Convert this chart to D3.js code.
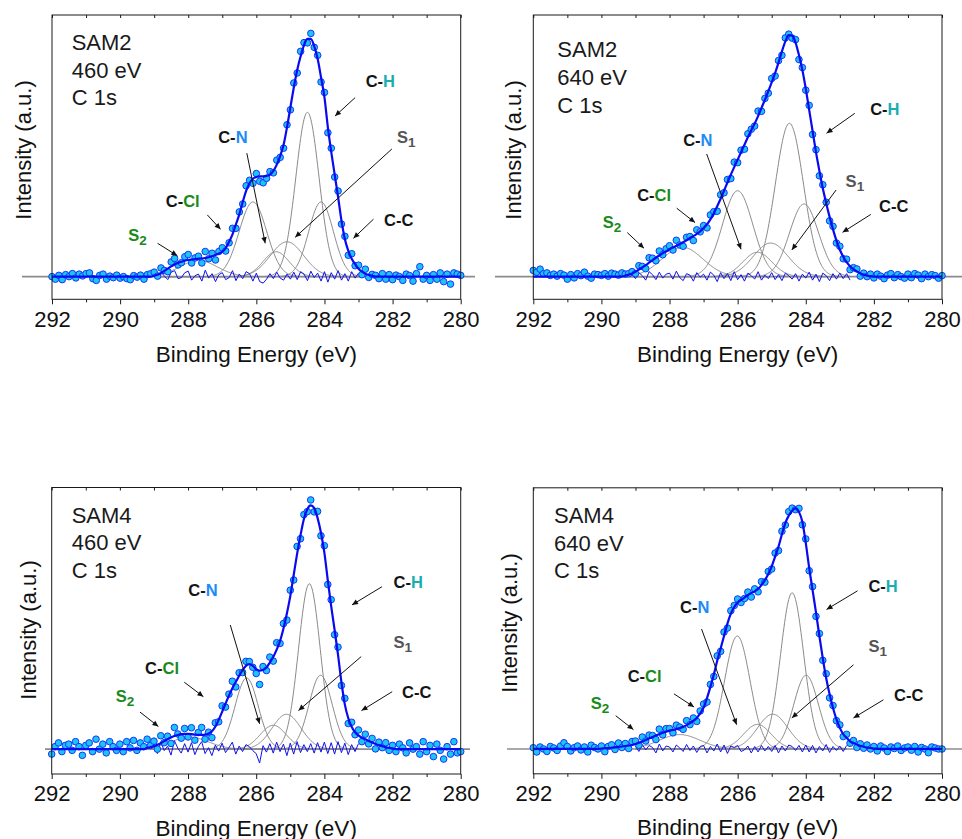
<!DOCTYPE html>
<html><head><meta charset="utf-8">
<script src="https://cdn.jsdelivr.net/npm/d3@7"></script>
<style>body{margin:0;background:#fff}svg{display:block}</style>
</head><body>
<svg id="chart" width="962" height="839"></svg>
<script>
// ---------- DATA ----------
// Energy grid: 292.0 eV down to 280.0 eV, 0.1 eV step (121 points); rows of 10 values
const energyStart = 292.0;
const energyStep = 0.1;
const xTickValues = [292, 290, 288, 286, 284, 282, 280];
const xMinorTickValues = [291, 289, 287, 285, 283, 281];
const xDomain = [292, 280];

const sampleNames = [["SAM2", "460 eV", "C 1s"], ["SAM2", "640 eV", "C 1s"], ["SAM4", "460 eV", "C 1s"], ["SAM4", "640 eV", "C 1s"]];

// measured intensities (a.u.)
const dataSAM2_460 = [
 0.000,-0.010,0.005,-0.012,0.008,0.000,0.012,-0.005,0.010,0.003,
 0.012,0.015,-0.008,-0.015,0.005,0.010,-0.010,0.002,-0.004,0.006,
 -0.006,0.000,-0.008,-0.012,0.004,-0.002,0.006,-0.010,0.008,0.012,
 0.018,0.002,0.035,0.025,0.020,0.059,0.073,0.047,0.056,0.080,
 0.089,0.055,0.075,0.082,0.055,0.101,0.072,0.094,0.067,0.101,
 0.116,0.103,0.136,0.194,0.194,0.260,0.292,0.365,0.387,0.375,
 0.414,0.383,0.377,0.395,0.422,0.417,0.468,0.479,0.516,0.610,
 0.670,0.778,0.818,0.905,0.940,0.939,0.977,0.921,0.889,0.782,
 0.740,0.578,0.516,0.400,0.344,0.211,0.162,0.086,0.092,0.044,
 0.046,0.008,0.030,-0.003,0.009,0.005,-0.008,0.012,-0.010,0.008,
 -0.012,0.006,0.000,-0.015,0.010,0.004,-0.018,0.012,0.040,-0.010,
 0.005,-0.015,0.008,-0.010,0.015,-0.020,0.010,-0.030,0.015,0.010,
 0.005];
const dataSAM2_640 = [
 0.025,0.018,0.030,0.012,0.015,0.005,0.010,0.002,0.012,0.006,
 -0.010,0.008,-0.005,0.012,0.004,0.018,0.002,-0.006,0.010,0.008,
 0.005,0.012,0.002,0.014,0.010,0.006,0.015,0.010,0.012,0.020,
 0.012,0.044,0.041,0.032,0.076,0.074,0.064,0.103,0.088,0.112,
 0.124,0.107,0.146,0.127,0.122,0.158,0.161,0.145,0.188,0.180,
 0.205,0.196,0.248,0.261,0.263,0.329,0.337,0.390,0.394,0.460,
 0.458,0.508,0.512,0.574,0.592,0.605,0.665,0.664,0.716,0.737,
 0.796,0.806,0.868,0.889,0.959,0.974,0.958,0.952,0.872,0.840,
 0.749,0.688,0.571,0.510,0.405,0.369,0.299,0.224,0.202,0.135,
 0.122,0.072,0.070,0.028,0.036,0.031,0.002,0.014,0.000,0.010,
 -0.005,0.010,0.002,-0.008,0.006,0.012,-0.004,0.008,0.000,-0.006,
 0.010,-0.004,0.012,0.006,-0.008,0.010,0.000,0.008,0.004,-0.006,
 0.004];
const dataSAM4_460 = [
 -0.020,0.010,0.025,-0.010,0.015,0.020,-0.005,0.030,0.010,-0.025,
 0.015,0.025,-0.010,0.040,0.000,0.020,-0.015,0.030,0.010,-0.005,
 0.020,-0.010,0.030,0.005,0.035,-0.005,0.025,0.010,0.040,0.015,
 0.032,0.000,0.054,0.026,0.052,0.023,0.087,0.061,0.044,0.083,
 0.049,0.086,0.036,0.067,0.087,0.040,0.068,0.046,0.106,0.110,
 0.174,0.169,0.221,0.273,0.250,0.307,0.308,0.353,0.352,0.329,
 0.304,0.260,0.332,0.316,0.370,0.354,0.428,0.425,0.505,0.519,
 0.639,0.680,0.815,0.846,0.943,0.955,1.002,0.954,0.956,0.858,
 0.818,0.662,0.601,0.460,0.410,0.256,0.204,0.103,0.108,0.058,
 0.077,0.030,0.060,0.021,0.043,0.001,0.028,0.006,0.026,-0.005,
 0.015,-0.010,0.020,0.005,-0.015,0.025,0.000,0.010,-0.020,0.030,
 -0.010,0.015,-0.030,0.020,-0.005,-0.040,0.010,-0.020,0.030,-0.015,
 -0.010];
const dataSAM4_640 = [
 0.005,-0.012,0.008,0.000,-0.010,0.010,0.004,-0.006,0.012,0.025,
 0.010,-0.008,0.005,0.012,-0.004,0.008,-0.012,0.015,0.006,0.000,
 0.012,-0.011,0.010,0.017,-0.002,0.024,0.006,0.022,0.002,0.030,
 0.032,0.015,0.048,0.032,0.056,0.054,0.038,0.080,0.057,0.082,
 0.082,0.065,0.096,0.088,0.079,0.114,0.098,0.125,0.111,0.153,
 0.181,0.189,0.260,0.292,0.375,0.393,0.471,0.487,0.557,0.578,
 0.604,0.590,0.606,0.632,0.612,0.645,0.633,0.674,0.672,0.715,
 0.725,0.789,0.799,0.877,0.902,0.956,0.970,0.964,0.969,0.903,
 0.846,0.718,0.654,0.534,0.465,0.357,0.303,0.206,0.175,0.114,
 0.097,0.050,0.059,0.023,0.034,0.006,0.021,0.003,0.016,0.000,
 0.010,-0.008,0.012,0.004,-0.010,0.008,0.002,0.012,-0.006,0.004,
 0.008,-0.005,0.010,-0.012,0.006,0.000,-0.015,0.008,0.004,0.000,
 0.000];

// fitted envelopes (a.u.)
const fitSAM2_460 = [
 0,0,0,0,0,0,0,0,0,0,
 0,0,0,0,0,0,0,0,0,0,
 0,0,0,0,0,0,0,0,0,0,
 0.004,0.008,0.015,0.023,0.032,0.041,0.049,0.055,0.060,0.064,
 0.067,0.069,0.071,0.072,0.073,0.075,0.078,0.082,0.087,0.093,
 0.100,0.115,0.140,0.170,0.210,0.250,0.300,0.345,0.375,0.393,
 0.400,0.403,0.403,0.405,0.410,0.425,0.450,0.485,0.530,0.600,
 0.680,0.760,0.830,0.885,0.930,0.955,0.955,0.925,0.875,0.800,
 0.720,0.600,0.500,0.410,0.320,0.225,0.150,0.104,0.072,0.050,
 0.032,0.020,0.012,0.007,0.003,0,0,0,0,0,
 0,0,0,0,0,0,0,0,0,0,
 0,0,0,0,0,0,0,0,0,0,
 0];
const fitSAM2_640 = [
 0,0,0,0,0,0,0,0,0,0,
 0,0,0,0,0,0,0,0,0,0,
 0,0,0,0,0,0,0,0.004,0.008,0.013,
 0.020,0.028,0.037,0.046,0.056,0.066,0.076,0.085,0.094,0.102,
 0.110,0.117,0.124,0.131,0.138,0.146,0.155,0.163,0.172,0.182,
 0.195,0.210,0.230,0.255,0.283,0.313,0.345,0.378,0.410,0.440,
 0.470,0.500,0.530,0.560,0.588,0.615,0.645,0.678,0.710,0.745,
 0.780,0.818,0.860,0.905,0.945,0.970,0.968,0.940,0.890,0.830,
 0.755,0.670,0.585,0.500,0.425,0.355,0.295,0.240,0.190,0.145,
 0.108,0.080,0.058,0.042,0.030,0.021,0.014,0.008,0.004,0.002,
 0,0,0,0,0,0,0,0,0,0,
 0,0,0,0,0,0,0,0,0,0,
 0];
const fitSAM4_460 = [
 0,0,0,0,0,0,0,0,0,0,
 0,0,0,0,0,0,0,0,0,0,
 0,0,0,0,0,0,0,0,0.005,0.008,
 0.012,0.018,0.024,0.032,0.040,0.047,0.053,0.057,0.060,0.061,
 0.061,0.060,0.058,0.057,0.057,0.058,0.062,0.072,0.090,0.118,
 0.150,0.183,0.215,0.245,0.270,0.295,0.318,0.335,0.342,0.335,
 0.322,0.316,0.318,0.328,0.348,0.370,0.400,0.435,0.485,0.545,
 0.615,0.700,0.785,0.860,0.925,0.965,0.980,0.970,0.930,0.870,
 0.790,0.680,0.575,0.480,0.380,0.270,0.180,0.125,0.090,0.068,
 0.055,0.046,0.040,0.033,0.027,0.021,0.016,0.012,0.008,0.005,
 0.003,0,0,0,0,0,0,0,0,0,
 0,0,0,0,0,0,0,0,0,0,
 0];
const fitSAM4_640 = [
 0,0,0,0,0,0,0,0,0,0,
 0,0,0,0,0,0,0,0,0,0,
 0.002,0.003,0.004,0.005,0.006,0.008,0.010,0.012,0.014,0.016,
 0.020,0.025,0.030,0.036,0.042,0.048,0.054,0.060,0.065,0.070,
 0.074,0.077,0.080,0.084,0.089,0.096,0.104,0.113,0.125,0.143,
 0.167,0.205,0.250,0.300,0.355,0.405,0.455,0.505,0.545,0.572,
 0.590,0.600,0.610,0.620,0.628,0.635,0.645,0.660,0.680,0.705,
 0.735,0.775,0.815,0.865,0.910,0.940,0.960,0.970,0.955,0.915,
 0.830,0.730,0.640,0.550,0.455,0.365,0.285,0.220,0.165,0.120,
 0.085,0.060,0.045,0.031,0.024,0.018,0.013,0.009,0.006,0.004,
 0.002,0,0,0,0,0,0,0,0,0,
 0,0,0,0,0,0,0,0,0,0,
 0];

// fit components: [position (eV), height (a.u.), FWHM (eV)] — order S2, C-N, C-Cl, S1, C-H, C-C
const componentNames = ["S2", "C-N", "C-Cl", "S1", "C-H", "C-C"];
const compSAM2_460 = [[287.70,0.065,1.30],[286.10,0.300,0.95],[285.42,0.100,0.90],[285.10,0.140,1.15],[284.50,0.660,0.80],[284.10,0.300,0.85]];
const compSAM2_640 = [[287.62,0.118,1.40],[286.00,0.345,1.05],[285.42,0.098,1.00],[285.03,0.135,1.20],[284.48,0.616,0.97],[284.05,0.292,1.00]];
const compSAM4_460 = [[287.95,0.048,1.30],[286.28,0.286,0.80],[285.50,0.096,0.90],[285.11,0.140,1.00],[284.44,0.665,0.75],[284.11,0.297,0.80]];
const compSAM4_640 = [[287.70,0.058,1.40],[286.01,0.455,0.88],[285.42,0.099,0.95],[284.97,0.140,1.05],[284.40,0.629,0.80],[283.99,0.297,0.85]];

// energy window of the fit (residual / components) [from, to]
const fitWindows = [[288.8, 283.0], [289.3, 282.7], [289.0, 283.0], [289.0, 282.8]];

// peak labels: [energy, intensity] ; arrows: [E1, I1, E2, I2]
const labelNames = ["C-H", "S1", "C-N", "C-Cl", "S2", "C-C"];
const labelPosSAM2_460 = [[282.79,0.761],[281.87,0.538],[287.12,0.538],[288.66,0.281],[289.76,0.145],[282.25,0.205]];
const labelPosSAM2_640 = [[282.11,0.649],[282.83,0.361],[287.60,0.526],[288.95,0.305],[289.96,0.194],[281.85,0.260]];
const labelPosSAM4_460 = [[281.97,0.649],[281.97,0.408],[287.99,0.616],[289.26,0.302],[290.12,0.191],[281.72,0.205]];
const labelPosSAM4_640 = [[282.16,0.633],[282.16,0.392],[287.69,0.546],[289.23,0.269],[290.31,0.161],[281.41,0.194]];
const arrowsSAM2_460 = [[283.10,0.719,283.69,0.645],[282.02,0.513,284.86,0.158],[286.28,0.496,285.74,0.134],[287.44,0.248,287.05,0.190],[288.90,0.134,288.32,0.084],[282.56,0.231,283.15,0.154]];
const arrowsSAM2_640 = [[282.56,0.656,283.39,0.576],[283.11,0.348,284.41,0.107],[286.91,0.493,285.90,0.110],[287.79,0.275,287.25,0.217],[289.24,0.177,288.75,0.114],[282.09,0.250,282.92,0.178]];
const arrowsSAM4_460 = [[282.31,0.653,283.19,0.580],[282.92,0.372,284.76,0.155],[286.76,0.499,285.90,0.102],[288.11,0.269,287.55,0.211],[289.41,0.149,288.87,0.091],[282.01,0.231,282.91,0.155]];
const arrowsSAM4_640 = [[282.48,0.637,283.39,0.562],[282.60,0.339,284.41,0.125],[287.06,0.483,286.03,0.098],[287.87,0.222,287.28,0.169],[289.58,0.134,289.06,0.078],[281.72,0.198,282.60,0.125]];

// ---------- LAYOUT / STYLE ----------
const FONT = "'Liberation Sans', Arial, Helvetica, sans-serif";
const layout = [
  {x:52,    y:15,    w:408.7, h:284.3, yDom:[-0.091,1.051], ylx:23,    yly:150, zx0:22,  zx1:475, tx:19.7, ty:35.0, tick:27.6, title:62.4},
  {x:533.3, y:15,    w:408.7, h:284.3, yDom:[-0.091,1.051], ylx:513.3, yly:150, zx0:495, zx1:962, tx:24.0, ty:42.3, tick:27.6, title:62.4},
  {x:51.7,  y:487.5, w:409.0, h:286.5, yDom:[-0.100,1.052], ylx:28.3,  yly:630, zx0:45,  zx1:470, tx:20.0, ty:35.2, tick:26.8, title:61.5},
  {x:533.3, y:487.8, w:408.7, h:286.0, yDom:[-0.100,1.052], ylx:509,   yly:623, zx0:507, zx1:962, tx:20.7, ty:35.0, tick:26.8, title:61.5}
];
const panels = [
  {data:dataSAM2_460, fit:fitSAM2_460, comps:compSAM2_460, lab:labelPosSAM2_460, arr:arrowsSAM2_460},
  {data:dataSAM2_640, fit:fitSAM2_640, comps:compSAM2_640, lab:labelPosSAM2_640, arr:arrowsSAM2_640},
  {data:dataSAM4_460, fit:fitSAM4_460, comps:compSAM4_460, lab:labelPosSAM4_460, arr:arrowsSAM4_460},
  {data:dataSAM4_640, fit:fitSAM4_640, comps:compSAM4_640, lab:labelPosSAM4_640, arr:arrowsSAM4_640}
];
const BLACK = "#141414", TEAL = "#1aaeb0", NBLUE = "#1e8cf5", GREEN = "#1a8a1a", GRAY = "#555555";
const labelStyle = {
  "C-H":  [["C-", BLACK], ["H", TEAL]],
  "S1":   [["S", GRAY], ["1", GRAY, true]],
  "C-N":  [["C-", BLACK], ["N", NBLUE]],
  "C-Cl": [["C-", BLACK], ["Cl", GREEN]],
  "S2":   [["S", GREEN], ["2", GREEN, true]],
  "C-C":  [["C-C", BLACK]]
};

const svg = d3.select("#chart");
svg.append("defs").append("marker")
  .attr("id", "ah").attr("viewBox", "0 0 10 10").attr("refX", 10).attr("refY", 5)
  .attr("markerWidth", 7).attr("markerHeight", 6).attr("orient", "auto")
  .attr("markerUnits", "userSpaceOnUse")
  .append("path").attr("d", "M0,0.5 L10,5 L0,9.5 Z").attr("fill", "#111");

panels.forEach((p, i) => {
  const L = layout[i];
  const g = svg.append("g");
  const x = d3.scaleLinear().domain(xDomain).range([L.x, L.x + L.w]);
  const y = d3.scaleLinear().domain(L.yDom).range([L.y + L.h, L.y]);
  const energyAt = k => +(energyStart - energyStep * k).toFixed(1);
  const pts = p.data.map((v, k) => ({e: energyAt(k), v}));
  const fitPts = p.fit.map((v, k) => ({e: energyAt(k), v}));
  const win = fitWindows[i];

  // zero line
  g.append("line").attr("x1", L.zx0).attr("x2", L.zx1)
    .attr("y1", y(0)).attr("y2", y(0))
    .attr("stroke", "#8c8c8c").attr("stroke-width", 1.6);

  // component peaks
  const es = d3.range(win[0], win[1] - 1e-9, -0.02);
  p.comps.forEach(c => {
    const line = d3.line()
      .x(e => x(e))
      .y(e => y(c[1] * Math.exp(-4 * Math.LN2 * Math.pow((e - c[0]) / c[2], 2))));
    g.append("path").attr("d", line(es)).attr("fill", "none")
      .attr("stroke", "#8a8a8a").attr("stroke-width", 1);
  });

  // residual (data - fit) within fit window
  const res = pts.map((d, k) => ({e: d.e, r: d.v - p.fit[k]}))
    .filter(d => d.e <= win[0] + 1e-6 && d.e >= win[1] - 1e-6);
  g.append("path").attr("d", d3.line().x(d => x(d.e)).y(d => y(d.r))(res))
    .attr("fill", "none").attr("stroke", "#1010f0").attr("stroke-width", 1);

  // data points
  g.append("g").selectAll("circle").data(pts).join("circle")
    .attr("cx", d => x(d.e)).attr("cy", d => y(d.v)).attr("r", 3.3)
    .attr("fill", "#1cc4f0").attr("stroke", "#1636ff").attr("stroke-width", 1);

  // fit envelope
  g.append("path").attr("d", d3.line().x(d => x(d.e)).y(d => y(d.v)).curve(d3.curveMonotoneX)(fitPts))
    .attr("fill", "none").attr("stroke", "#0a0af0").attr("stroke-width", 2.2);

  // frame
  g.append("rect").attr("x", L.x).attr("y", L.y).attr("width", L.w).attr("height", L.h)
    .attr("fill", "none").attr("stroke", "#1a1a1a").attr("stroke-width", 1);

  // bottom axis: major ticks with labels
  const axB = g.append("g").attr("transform", `translate(0,${L.y + L.h})`)
    .call(d3.axisBottom(x).tickValues(xTickValues).tickSize(5).tickFormat(d3.format("d")));
  axB.select(".domain").remove();
  axB.selectAll("line").attr("stroke", "#1a1a1a");
  axB.selectAll("text").attr("y", L.tick).attr("dy", null)
    .attr("font-family", FONT).attr("font-size", 22).attr("fill", "#111");
  const axBm = g.append("g").attr("transform", `translate(0,${L.y + L.h})`)
    .call(d3.axisBottom(x).tickValues(xMinorTickValues).tickSize(3).tickFormat(""));
  axBm.select(".domain").remove();
  axBm.selectAll("line").attr("stroke", "#1a1a1a");
  // top axis: inward ticks
  const axT = g.append("g").attr("transform", `translate(0,${L.y})`)
    .call(d3.axisTop(x).tickValues(xTickValues.concat(xMinorTickValues)).tickSize(-3).tickFormat(""));
  axT.select(".domain").remove();
  axT.selectAll("line").attr("stroke", "#1a1a1a");

  // axis titles
  g.append("text").attr("x", L.x + L.w / 2).attr("y", L.y + L.h + L.title)
    .attr("text-anchor", "middle").attr("font-family", FONT).attr("font-size", 22.5)
    .attr("fill", "#111").text("Binding Energy (eV)");
  g.append("text").attr("transform", `translate(${L.ylx},${L.yly}) rotate(-90)`)
    .attr("text-anchor", "middle").attr("dominant-baseline", "central")
    .attr("font-family", FONT).attr("font-size", 22).attr("fill", "#111").text("Intensity (a.u.)");

  // sample text
  sampleNames[i].forEach((t, k) => {
    g.append("text").attr("x", L.x + L.tx).attr("y", L.y + L.ty + k * 27.7)
      .attr("font-family", FONT).attr("font-size", 22).attr("fill", "#1a1a1a").text(t);
  });

  // arrows
  p.arr.forEach(a => {
    g.append("line").attr("x1", x(a[0])).attr("y1", y(a[1])).attr("x2", x(a[2])).attr("y2", y(a[3]))
      .attr("stroke", "#111").attr("stroke-width", 1).attr("marker-end", "url(#ah)");
  });

  // peak labels
  p.lab.forEach((pos, k) => {
    const parts = labelStyle[labelNames[k]];
    const t = g.append("text").attr("x", x(pos[0])).attr("y", y(pos[1]))
      .attr("font-family", FONT).attr("font-weight", "bold").attr("font-size", 16.5);
    parts.forEach(pt => {
      const ts = t.append("tspan").attr("fill", pt[1]).text(pt[0]);
      if (pt[2]) ts.attr("font-size", 13.5).attr("dy", 4);
    });
  });
});
</script>
</body></html>
